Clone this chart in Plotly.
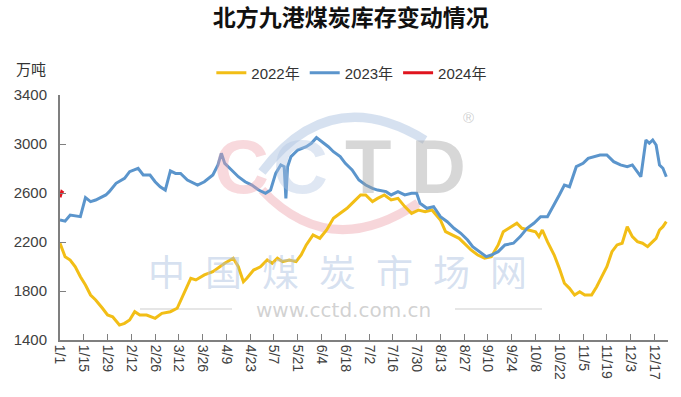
import plotly.graph_objects as go

# ---- data (day index from 1/1, value in 万吨) ----
days_2023 = [0, 3, 6, 12, 15, 18, 21, 27, 29, 33, 38, 41, 46, 49, 53, 56, 59, 62, 65, 68, 71, 75, 81, 85, 90,
             93, 95, 97, 101, 105, 109, 113, 117, 121, 124, 127, 130, 132, 133, 134, 136, 140, 145, 148, 151,
             154, 158, 161, 165, 168, 172, 176, 180, 184, 187, 192, 195, 199, 203, 207, 210, 212, 216, 220,
             224, 228, 232, 236, 240, 243, 247, 251, 254, 258, 262, 267, 271, 275, 279, 283, 287, 291, 294,
             297, 300, 304, 308, 311, 314, 318, 322, 326, 330, 334, 337, 339, 342, 345, 347, 349, 351, 353,
             355, 357]
vals_2023 = [2380, 2370, 2420, 2407, 2562, 2530, 2543, 2584, 2611, 2679, 2720, 2774, 2802, 2747, 2747, 2692,
             2651, 2624, 2780, 2760, 2760, 2706, 2665, 2692, 2747, 2829, 2924, 2842, 2788, 2733, 2692, 2665,
             2624, 2597, 2624, 2760, 2829, 2815, 2556, 2815, 2897, 2951, 2978, 3006, 3052, 3019, 2978, 2937,
             2897, 2842, 2788, 2706, 2665, 2638, 2624, 2611, 2584, 2611, 2584, 2597, 2597, 2516, 2475, 2489,
             2407, 2366, 2312, 2271, 2216, 2162, 2121, 2080, 2094, 2121, 2176, 2190, 2244, 2312, 2353, 2407,
             2407, 2502, 2584, 2665, 2651, 2815, 2842, 2883, 2897, 2910, 2910, 2856, 2829, 2815, 2829, 2788,
             2733, 3033, 3006, 3033, 2992, 2829, 2802, 2733]

days_2022 = [0, 3, 6, 9, 12, 15, 18, 21, 25, 28, 31, 35, 38, 41, 44, 47, 51, 56, 60, 65, 69, 73, 77, 80, 85,
             90, 97, 102, 105, 108, 110, 114, 118, 122, 125, 128, 131, 135, 139, 142, 145, 149, 153, 157, 161,
             165, 169, 173, 177, 180, 184, 187, 191, 195, 199, 203, 207, 211, 215, 219, 224, 227, 231, 235,
             239, 242, 246, 250, 254, 258, 261, 266, 269, 272, 276, 280, 282, 284, 287, 291, 294, 297, 300,
             303, 306, 309, 313, 316, 319, 322, 325, 328, 331, 334, 337, 340, 343, 346, 349, 351, 353, 355, 357]
vals_2022 = [2190, 2080, 2053, 1998, 1917, 1849, 1767, 1727, 1659, 1604, 1590, 1522, 1536, 1563, 1631, 1604,
             1604, 1577, 1618, 1631, 1659, 1781, 1904, 1890, 1931, 1958, 2026, 2067, 1998, 1876, 1904, 1971,
             1998, 2053, 2026, 2067, 2040, 2053, 2040, 2094, 2176, 2257, 2230, 2298, 2393, 2434, 2475, 2530,
             2584, 2584, 2530, 2556, 2584, 2543, 2556, 2489, 2434, 2461, 2448, 2461, 2380, 2284, 2257, 2230,
             2176, 2135, 2094, 2067, 2080, 2176, 2284, 2325, 2353, 2312, 2298, 2284, 2244, 2298, 2203, 2094,
             1985, 1863, 1822, 1767, 1794, 1767, 1767, 1835, 1917, 1998, 2121, 2176, 2190, 2325, 2244, 2203,
             2190, 2162, 2203, 2230, 2298, 2325, 2366]

days_2024 = [0, 1, 2]
vals_2024 = [2565, 2610, 2600]

tick_days = list(range(0, 352, 14))
tick_labels = ["1/1", "1/15", "1/29", "2/12", "2/26", "3/12", "3/26", "4/9", "4/23", "5/7", "5/21", "6/4",
               "6/18", "7/2", "7/16", "7/30", "8/13", "8/27", "9/10", "9/24", "10/8", "10/22", "11/5",
               "11/19", "12/3", "12/17"]

series = [("2022年", days_2022, vals_2022, "#F2BE16"),
          ("2023年", days_2023, vals_2023, "#5B95CC"),
          ("2024年", days_2024, vals_2024, "#E0141E")]

FONT = "Liberation Sans, Arial, Noto Sans CJK SC, sans-serif"
CJK = "Noto Sans CJK SC, sans-serif"
W, H = 681, 397
L, R, T, B = 60, 13, 95, 57
PW, PH = W - L - R, H - T - B


def px(x):  # pixel -> paper x
    return (x - L) / PW


def py(y):  # pixel -> paper y
    return (H - B - y) / PH


fig = go.Figure()
for name, d, v, c in series:
    fig.add_trace(go.Scatter(x=d, y=v, mode="lines", name=name,
                             line=dict(color=c, width=3)))

# ---- faint CCTD watermark ----
logo = [("C", 241, "rgba(238,160,170,0.40)"), ("C", 300, "rgba(175,195,225,0.40)"),
        ("T", 368, "rgba(160,160,160,0.42)"), ("D", 438, "rgba(160,160,160,0.42)")]
for ch, cx, col in logo:
    fig.add_annotation(text=ch, x=px(cx), y=py(166), xref="paper", yref="paper", showarrow=False,
                       xanchor="center", yanchor="middle",
                       font=dict(size=76, color=col, family="Liberation Sans", weight="bold"))
fig.add_annotation(text="®", x=px(468), y=py(117), xref="paper", yref="paper", showarrow=False,
                   xanchor="center", yanchor="middle",
                   font=dict(size=15, color="rgba(160,160,160,0.5)", family="Liberation Sans"))
# arcs of the logo
fig.add_shape(type="path", xref="paper", yref="paper", layer="below",
              path="M {:.4f} {:.4f} Q {:.4f} {:.4f} {:.4f} {:.4f}".format(
                  px(262), py(172), px(330), py(82), px(425), py(140)),
              line=dict(color="rgba(180,200,228,0.55)", width=9))
fig.add_shape(type="path", xref="paper", yref="paper", layer="below",
              path="M {:.4f} {:.4f} Q {:.4f} {:.4f} {:.4f} {:.4f}".format(
                  px(262), py(190), px(330), py(262), px(418), py(203)),
              line=dict(color="rgba(240,180,188,0.55)", width=9))
wm_chars = "中国煤炭市场网"
for i, ch in enumerate(wm_chars):
    fig.add_annotation(text=ch, x=px(166 + i * 57), y=py(271), xref="paper", yref="paper",
                       showarrow=False, xanchor="center", yanchor="middle", height=36,
                       font=dict(size=37, color="rgba(170,192,224,0.48)", family=CJK))
fig.add_annotation(text="www.cctd.com.cn", x=px(343), y=py(310), xref="paper", yref="paper",
                   showarrow=False, xanchor="center", yanchor="middle", height=16,
                   font=dict(size=20, color="rgba(165,165,165,0.5)", family="DejaVu Sans"))
for x0, x1 in [(140, 232), (455, 542)]:
    fig.add_shape(type="line", xref="paper", yref="paper", x0=px(x0), x1=px(x1), y0=py(309), y1=py(309),
                  layer="below", line=dict(color="rgba(190,190,190,0.5)", width=1.5))

# unit label
fig.add_annotation(text="万吨", x=px(31), y=py(68), xref="paper", yref="paper",
                   showarrow=False, xanchor="center", yanchor="middle",
                   font=dict(size=15, color="#333333", family=CJK))

fig.update_layout(
    width=W, height=H,
    margin=dict(l=L, r=R, t=T, b=B, autoexpand=False),
    paper_bgcolor="white", plot_bgcolor="white",
    font=dict(family=FONT, color="#404040"),
    title=dict(text="北方九港煤炭库存变动情况", x=0.515, xanchor="center", y=1 - 18 / H, yanchor="middle",
               font=dict(size=23, color="#111111", family=CJK, weight="bold")),
    legend=dict(orientation="h", x=0.48, xanchor="center", yref="container", y=1 - 73 / H,
                yanchor="middle", font=dict(size=15, color="#333333", family=FONT),
                itemwidth=30, tracegroupgap=0),
    showlegend=True,
)
fig.update_xaxes(range=[0, 358], tickmode="array", tickvals=tick_days, ticktext=tick_labels,
                 tickangle=90, ticks="inside", ticklen=6, tickcolor="#7f7f7f", automargin=False,
                 showline=True, linecolor="#7f7f7f", linewidth=2, showgrid=False, zeroline=False,
                 tickfont=dict(size=14, color="#404040"))
fig.update_yaxes(range=[1400, 3400], tickvals=[1400, 1800, 2200, 2600, 3000, 3400],
                 ticks="inside", ticklen=6, tickcolor="#7f7f7f", automargin=False,
                 showline=True, linecolor="#7f7f7f", linewidth=2, showgrid=False, zeroline=False,
                 tickfont=dict(size=15, color="#404040"), ticklabelstandoff=8)

fig.write_html("out.html", config={"displayModeBar": False},
               post_script="document.body.style.margin='0px';")
